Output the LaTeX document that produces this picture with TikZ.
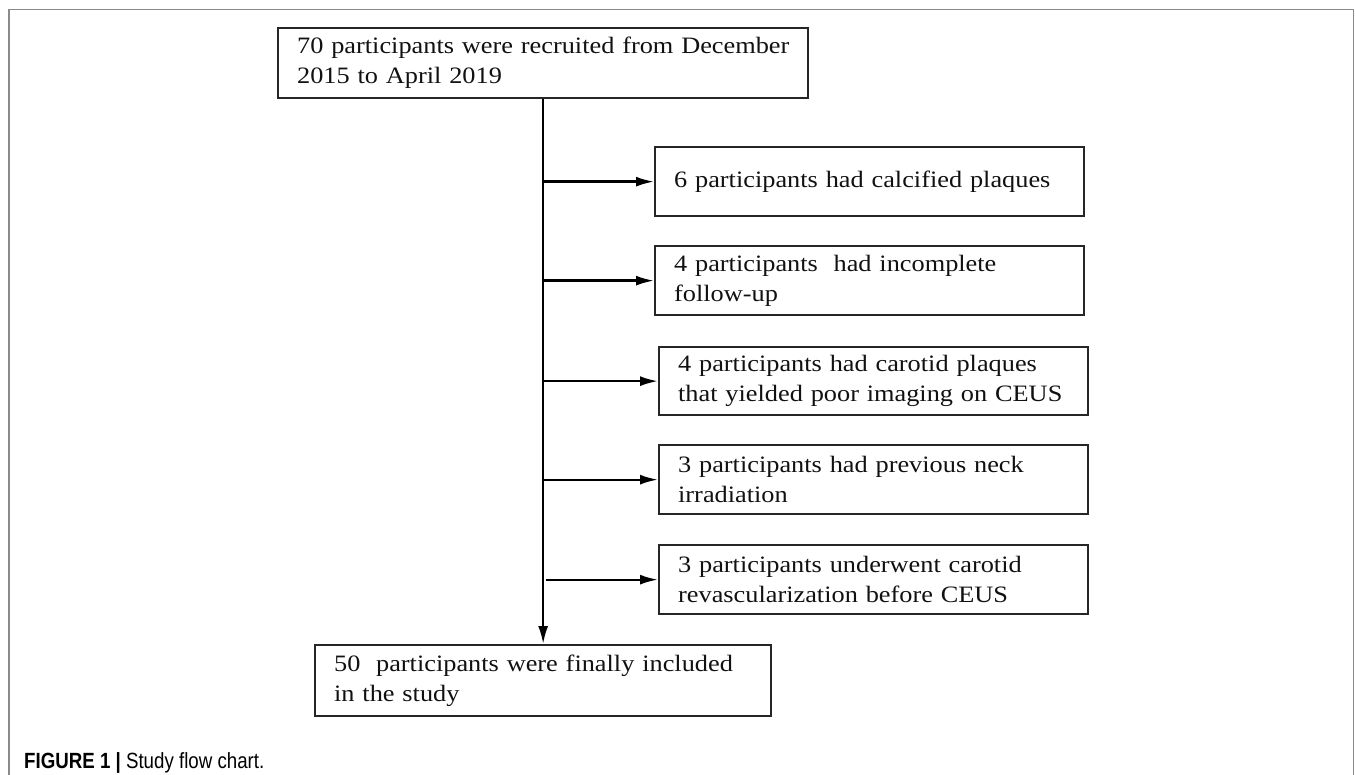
\documentclass[tikz,border=0pt]{standalone}
\usepackage{fontspec}
\setmainfont{Liberation Serif}[FakeStretch=1.12]
\newfontfamily\capfont{Liberation Sans}[FakeStretch=0.85]
\usetikzlibrary{arrows.meta}
\definecolor{framec}{HTML}{8A8A8A}
\definecolor{boxc}{HTML}{262626}
\definecolor{txtc}{HTML}{111111}
\hyphenpenalty=10000
\exhyphenpenalty=10000
\begin{document}
\begin{tikzpicture}[x=1pt,y=-1pt,
  box/.style={draw=boxc, line width=2.3pt, anchor=north west, align=left,
    inner xsep=19pt, inner ysep=0pt, text=txtc,
    font=\fontsize{23.5}{30}\selectfont},
  arr/.style={draw=black, line width=2.3pt, -{Latex[length=18pt,width=10pt]}}]
\useasboundingbox (0,0) rectangle (1355,775);
\draw[framec, line width=1.6pt] (9,775) -- (9,9.5) -- (1353.5,9.5) -- (1353.5,775);

\node[box, text width=492pt, minimum height=70pt] (top) at (277,27)
  {\mbox{70 participants were recruited from December}\\2015 to April 2019};
\node[box, text width=391pt, minimum height=69pt] (b1) at (654,146)
  {6 participants had calcified plaques};
\node[box, text width=391pt, minimum height=69pt] (b2) at (654,245)
  {4 participants~ had incomplete\\follow-up};
\node[box, text width=391pt, minimum height=68pt] (b3) at (658,346)
  {4 participants had carotid plaques\\that yielded poor imaging on CEUS};
\node[box, text width=391pt, minimum height=69pt] (b4) at (658,444)
  {3 participants had previous neck\\irradiation};
\node[box, text width=391pt, minimum height=69pt] (b5) at (658,544)
  {3 participants underwent carotid\\revascularization before CEUS};
\node[box, text width=418pt, minimum height=71pt] (bot) at (314,644)
  {50~ participants were finally included\\in the study};

\coordinate (trunk) at (542,0);
\draw[arr] (top.south) -- (bot.north);
\foreach \b in {b1,b2,b3,b4} {
  \draw[arr] (\b.west -| trunk) -- (\b.west);
}
\draw[arr] ([xshift=4pt]b5.west -| trunk) -- (b5.west);

\node[anchor=base west, inner sep=0pt, font=\capfont\fontsize{22}{26}\selectfont] (cap) at (24,768)
  {\textbf{FIGURE 1 |} Study flow chart.};
\end{tikzpicture}
\end{document}
